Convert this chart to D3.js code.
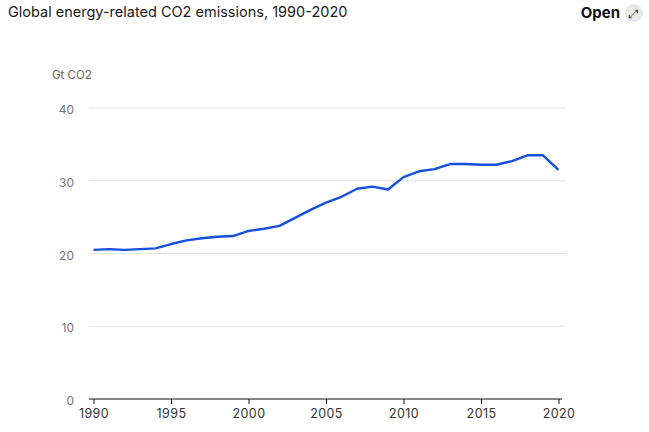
<!DOCTYPE html>
<html>
<head>
<meta charset="utf-8">
<script src="https://cdn.jsdelivr.net/npm/d3@7"></script>
<style>
  body { margin: 0; background: #fff; font-family: Inter, "Noto Sans", sans-serif; }
  svg { display: block; }
</style>
</head>
<body>
<svg width="649" height="432"></svg>
<script>
// data (Gt CO2)
const years = d3.range(1990, 2021);
const emissions = [
  20.5, 20.6, 20.5, 20.6, 20.7, 21.3, 21.8, 22.1, 22.3, 22.4,
  23.1, 23.4, 23.8, 24.9, 26.0, 27.0, 27.8, 28.9, 29.2, 28.8,
  30.5, 31.3, 31.6, 32.3, 32.3, 32.2, 32.2, 32.7, 33.5, 33.5,
  31.5
];
const yTicks = [0, 10, 20, 30, 40];
const xTicks = [1990, 1995, 2000, 2005, 2010, 2015, 2020];

const svg = d3.select("svg");
const margin = {left: 89, right: 566, top: 108, bottom: 399};

const x = d3.scaleLinear()
  .domain([1990, 2020])
  .range([93.5, 558.5]);

const y = d3.scaleLinear()
  .domain([0, 40])
  .range([margin.bottom, margin.top]);

// title + open button
svg.append("text")
  .attr("x", 8).attr("y", 17)
  .attr("font-size", 14.5)
  .attr("fill", "#1a1a1a")
  .text("Global energy-related CO2 emissions, 1990-2020");

svg.append("text")
  .attr("x", 620).attr("y", 18)
  .attr("text-anchor", "end")
  .attr("font-size", 15)
  .attr("font-weight", 700)
  .attr("fill", "#111")
  .text("Open");

svg.append("circle")
  .attr("cx", 634).attr("cy", 13).attr("r", 9)
  .attr("fill", "#e8e8e8");

svg.append("text")
  .attr("x", 634).attr("y", 17.5)
  .attr("text-anchor", "middle")
  .attr("font-size", 12)
  .attr("font-family", "DejaVu Sans")
  .attr("fill", "#333")
  .text("⤢");

// unit label
svg.append("text")
  .attr("x", 52).attr("y", 78.5)
  .attr("font-size", 11.5)
  .attr("fill", "#666")
  .text("Gt CO2");

// gridlines
svg.append("g")
  .selectAll("line")
  .data(yTicks.filter(d => d > 0))
  .join("line")
  .attr("x1", margin.left).attr("x2", margin.right)
  .attr("y1", d => y(d)).attr("y2", d => y(d))
  .attr("stroke", "#e3e3e3")
  .attr("stroke-width", 1);

// y labels
svg.append("g")
  .selectAll("text")
  .data(yTicks)
  .join("text")
  .attr("x", 74)
  .attr("y", d => y(d) + 6)
  .attr("text-anchor", "end")
  .attr("font-size", 12)
  .attr("fill", "#777")
  .text(d => d);

// x axis
const xAxis = svg.append("g")
  .attr("transform", `translate(0,${margin.bottom})`)
  .call(d3.axisBottom(x).tickValues(xTicks).tickFormat(d3.format("d")).tickSize(5).tickSizeOuter(0));

xAxis.select(".domain")
  .attr("d", `M${margin.left},0H562`)
  .attr("stroke", "#111");
xAxis.selectAll(".tick line").attr("stroke", "#111");
xAxis.selectAll(".tick text")
  .attr("font-family", "Inter, 'Noto Sans', sans-serif")
  .attr("font-size", 12.5)
  .attr("letter-spacing", 0.4)
  .attr("fill", "#333")
  .attr("y", 18.5)
  .attr("dy", 0);

// line
const line = d3.line()
  .x((d, i) => x(years[i]))
  .y(d => y(d));

svg.append("path")
  .datum(emissions)
  .attr("d", line)
  .attr("fill", "none")
  .attr("stroke", "#1450dc")
  .attr("stroke-width", 2.4)
  .attr("stroke-linejoin", "round");
</script>
</body>
</html>
